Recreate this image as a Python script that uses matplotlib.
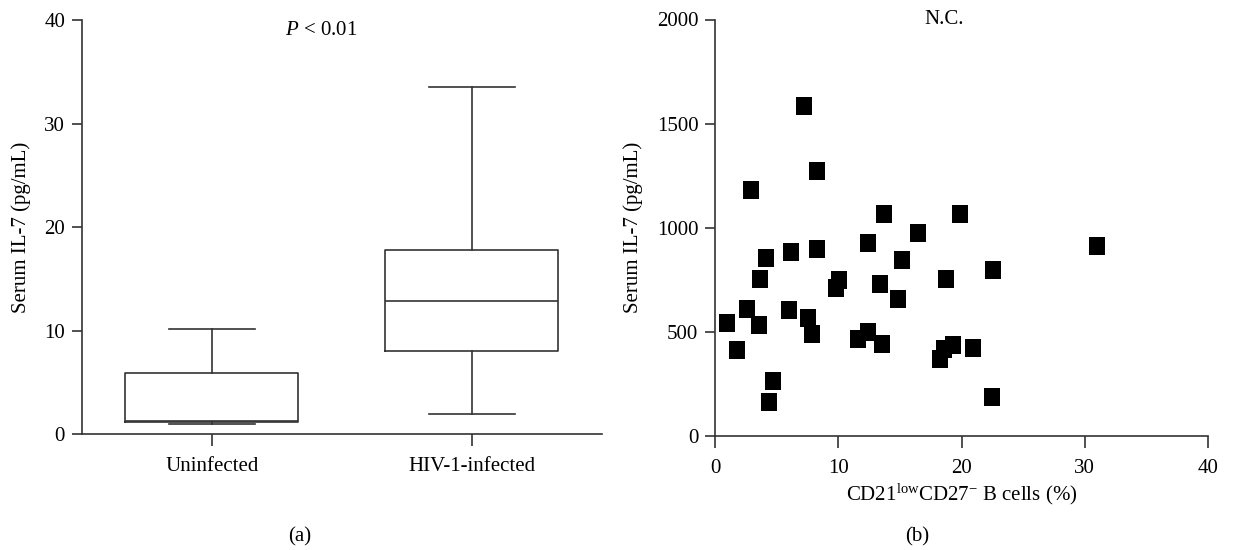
import matplotlib
matplotlib.use("Agg")
import matplotlib.pyplot as plt

plt.rcParams['font.family'] = ['Liberation Serif', 'DejaVu Serif']
plt.rcParams['mathtext.fontset'] = 'custom'
plt.rcParams['mathtext.rm'] = 'Liberation Serif'
plt.rcParams['mathtext.it'] = 'Liberation Serif:italic'

# ---- Panel (a): box plot data ----
groups = ["Uninfected", "HIV-1-infected"]
whisker_low = [1.0, 2.0]
q1 = [1.2, 8.0]
median = [1.25, 12.85]
q3 = [5.9, 17.75]
whisker_high = [10.15, 33.5]

# ---- Panel (b): scatter data ----
cd21_pct = [7.23, 8.25, 2.89, 13.75, 19.88, 16.5, 12.4, 30.96, 8.31, 6.2,
            4.1, 15.18, 22.52, 3.69, 18.77, 10.06, 9.82, 13.4, 14.86, 2.56,
            6.01, 7.58, 1.0, 3.56, 7.87, 12.4, 11.62, 13.57, 19.28, 18.55,
            20.95, 18.26, 1.81, 4.67, 4.4, 22.44]
il7 = [1583, 1273, 1180, 1063, 1063, 975, 924, 913, 895, 881,
       855, 844, 796, 752, 752, 748, 712, 728, 655, 608,
       604, 567, 540, 532, 487, 496, 467, 443, 435, 419,
       423, 368, 411, 264, 160, 187]

W, H = 1242, 550
fig = plt.figure(figsize=(W / 100, H / 100), dpi=100)

def axes_px(x0, x1, ytop, ybot):
    return fig.add_axes([x0 / W, 1 - ybot / H, (x1 - x0) / W, (ybot - ytop) / H])

lc = "#333333"
fs = 15

# Panel (a)
axa = axes_px(81.7, 601.7, 20, 434.3)
stats = []
for i, g in enumerate(groups):
    stats.append(dict(label=g, whislo=whisker_low[i], q1=q1[i], med=median[i],
                      q3=q3[i], whishi=whisker_high[i], fliers=[]))
axa.bxp(stats, positions=[1, 2], widths=0.665, showfliers=False,
        boxprops=dict(color=lc, linewidth=1.2),
        medianprops=dict(color=lc, linewidth=1.2),
        whiskerprops=dict(color=lc, linewidth=1.2),
        capprops=dict(color=lc, linewidth=1.2),
        capwidths=0.33)
axa.set_xlim(0.5, 2.5)
axa.set_ylim(0, 40)
axa.set_yticks([0, 10, 20, 30, 40])
axa.set_xticks([1, 2])
axa.set_xticklabels(groups)
axa.set_ylabel("Serum IL-7 (pg/mL)", fontsize=fs)
axa.yaxis.set_label_coords((31 - 81.7) / 520, 0.5)
axa.text(1.42, 39.0, r"$\mathit{P}$ < 0.01", fontsize=fs, ha="center", va="center")

# Panel (b)
axb = axes_px(715, 1208, 19.5, 435.7)
marker = [(-0.42, -0.5), (0.42, -0.5), (0.42, 0.5), (-0.42, 0.5), (-0.42, -0.5)]
axb.plot(cd21_pct, il7, linestyle="none", marker=marker, markersize=13.5,
         color="black", markeredgewidth=0)
axb.set_xlim(0, 40)
axb.set_ylim(0, 2000)
axb.set_xticks([0, 10, 20, 30, 40])
axb.set_yticks([0, 500, 1000, 1500, 2000])
axb.set_ylabel("Serum IL-7 (pg/mL)", fontsize=fs)
axb.yaxis.set_label_coords((643 - 715) / 493, 0.5)
axb.set_xlabel(r"CD21$^{\mathregular{low}}$CD27$^{-}$ B cells (%)", fontsize=fs)
axb.xaxis.set_label_coords(0.5, (436 - 482) / 416)
axb.text(18.6, 2000, "N.C.", fontsize=fs, ha="center", va="center")

for ax in (axa, axb):
    for s in ("top", "right"):
        ax.spines[s].set_visible(False)
    for s in ("left", "bottom"):
        ax.spines[s].set_color(lc)
        ax.spines[s].set_linewidth(1.2)
    ax.tick_params(axis="y", direction="out", length=7, width=1.2, color=lc,
                   labelsize=fs, pad=5)
    ax.tick_params(axis="x", direction="out", length=8.5, width=1.2, color=lc,
                   labelsize=fs, pad=8)
    ax.patch.set_visible(False)

fig.text(300 / W, 1 - 537 / H, "(a)", fontsize=fs, ha="center", va="center")
fig.text(917 / W, 1 - 537 / H, "(b)", fontsize=fs, ha="center", va="center")

fig.savefig("out.png", dpi=100)
